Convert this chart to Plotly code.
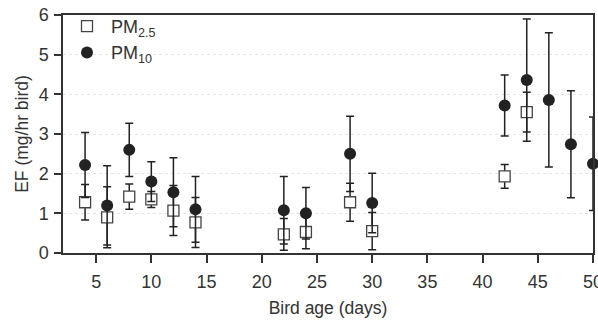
import plotly.graph_objects as go

age_pm10 = [4, 6, 8, 10, 12, 14, 22, 24, 28, 30, 42, 44, 46, 48, 50]
pm10 = [2.22, 1.2, 2.6, 1.8, 1.53, 1.1, 1.08, 1.0, 2.5, 1.26, 3.72, 4.36, 3.86, 2.74, 2.25]
pm10_err = [0.82, 1.0, 0.67, 0.5, 0.87, 0.83, 0.85, 0.65, 0.95, 0.75, 0.77, 1.54, 1.69, 1.35, 1.18]

age_pm25 = [4, 6, 8, 10, 12, 14, 22, 24, 28, 30, 42, 44]
pm25 = [1.28, 0.9, 1.42, 1.35, 1.07, 0.77, 0.47, 0.53, 1.28, 0.55, 1.93, 3.55]
pm25_err = [0.45, 0.77, 0.32, 0.2, 0.63, 0.63, 0.4, 0.42, 0.48, 0.47, 0.3, 0.5]

dark = "#222222"

fig = go.Figure()
fig.add_trace(go.Scatter(
    x=age_pm25, y=pm25, mode="markers", name="PM<sub>2.5</sub>",
    marker=dict(symbol="square", size=11, color="white", line=dict(color="#444444", width=1.3)),
    error_y=dict(type="data", array=pm25_err, color=dark, thickness=1.5, width=4),
    cliponaxis=False,
))
fig.add_trace(go.Scatter(
    x=age_pm10, y=pm10, mode="markers", name="PM<sub>10</sub>",
    marker=dict(symbol="circle", size=12, color=dark, line=dict(color=dark, width=0)),
    error_y=dict(type="data", array=pm10_err, color=dark, thickness=1.5, width=4),
    cliponaxis=False,
))

fig.update_layout(
    width=598, height=322,
    margin=dict(l=63, r=5, t=15, b=69),
    paper_bgcolor="white", plot_bgcolor="white",
    font=dict(family="Liberation Sans, Arial, sans-serif", size=16, color="#333333"),
    showlegend=True,
    legend=dict(x=0.0, y=1.03, xanchor="left", yanchor="top", bgcolor="rgba(0,0,0,0)",
                font=dict(size=18), itemsizing="trace", itemwidth=38, tracegroupgap=0),
)
fig.update_xaxes(
    range=[2, 50], tickvals=[5, 10, 15, 20, 25, 30, 35, 40, 45, 50],
    ticks="outside", ticklen=8, tickwidth=1.5, tickcolor="#333333",
    showline=True, linecolor="#333333", linewidth=1.5, mirror=True,
    showgrid=False, zeroline=False, ticklabeloverflow="allow", automargin=False,
    ticklabelstandoff=4,
    title=dict(text="Bird age (days)", standoff=10, font=dict(size=17.5)),
    tickfont=dict(size=18),
)
fig.update_yaxes(
    range=[0, 6], tickvals=[0, 1, 2, 3, 4, 5, 6],
    ticks="outside", ticklen=7, tickwidth=1.5, tickcolor="#333333",
    showline=True, linecolor="#333333", linewidth=1.5, mirror=True,
    showgrid=True, gridcolor="#e4e4e4", griddash="dot", gridwidth=1,
    zeroline=False, automargin=False, ticklabelstandoff=2,
    title=dict(text="EF (mg/hr bird)", standoff=6, font=dict(size=17.5)),
    tickfont=dict(size=18),
)

fig.write_html("out.html")
